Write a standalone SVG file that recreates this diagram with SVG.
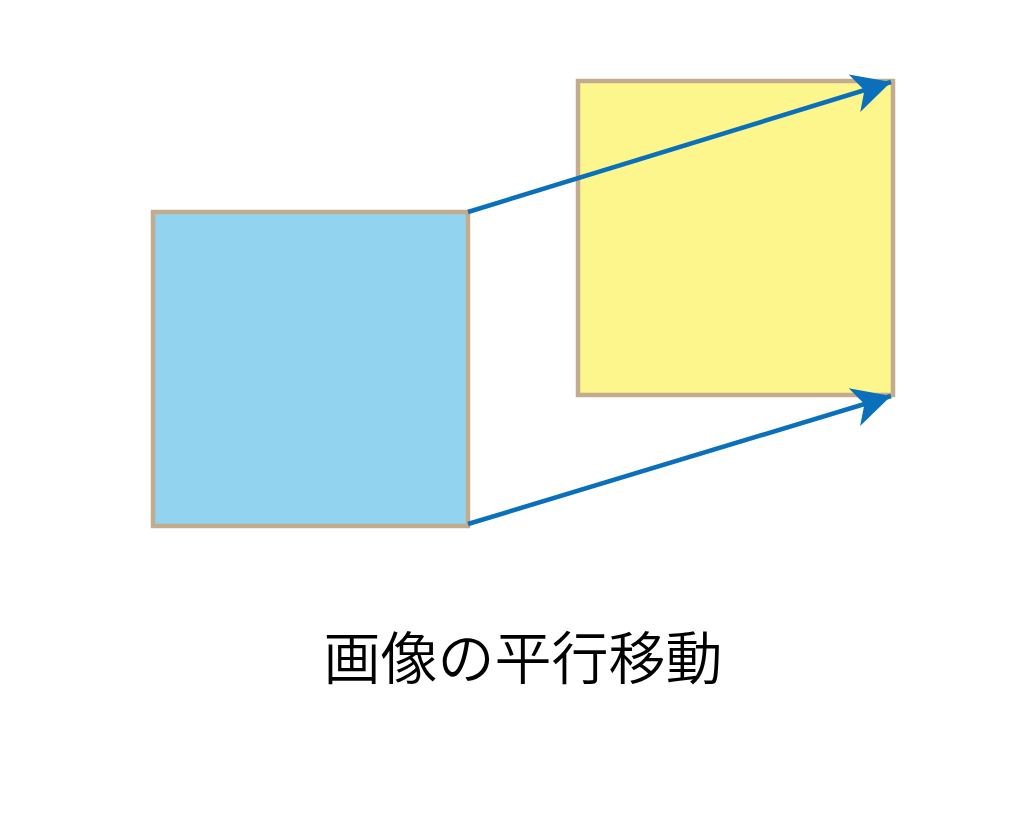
<svg xmlns="http://www.w3.org/2000/svg" width="1024" height="819" viewBox="0 0 1024 819">
<style>
.sq{stroke:#c3ab8e;stroke-width:4.5}
.ar{stroke:#0a70bb;stroke-width:4.5;fill:none;marker-end:url(#ah)}
.lb{font-family:"Noto Sans CJK JP",sans-serif;font-size:57px;font-weight:350;fill:#000}
</style>
<defs>
<marker id="ah" markerUnits="userSpaceOnUse" markerWidth="44" markerHeight="44" viewBox="-36 -18 38 36" refX="0" refY="0" orient="auto">
<path d="M0,0 L-33,-17 L-24,0 L-33,17 Z" fill="#0a70bb"/>
</marker>
</defs>
<rect width="1024" height="819" fill="#fff"/>
<g id="source">
<rect class="sq" x="153" y="212" width="315" height="314" fill="#92d3f0"/>
</g>
<g id="target">
<rect class="sq" x="578" y="81" width="315" height="314" fill="#fdf68c"/>
</g>
<g id="connectors">
<line class="ar" x1="468" y1="212" x2="891" y2="82"/>
<line class="ar" x1="468" y1="524" x2="891" y2="396"/>
</g>
<g id="caption">
<text class="lb" x="523" y="679" text-anchor="middle">画像の平行移動</text>
</g>
</svg>
